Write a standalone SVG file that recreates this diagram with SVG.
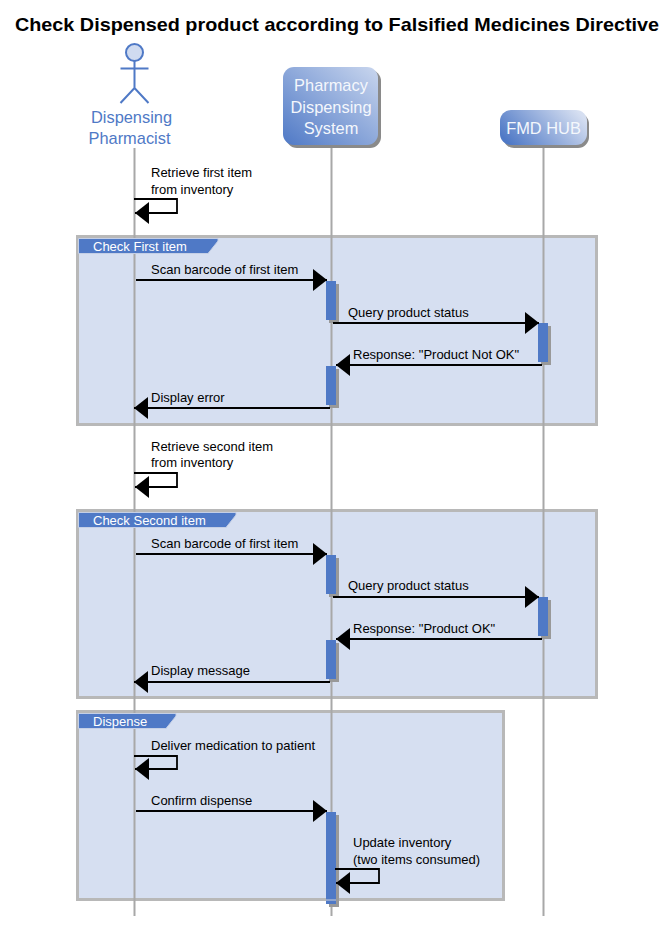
<svg xmlns="http://www.w3.org/2000/svg" width="670" height="927" viewBox="0 0 670 927">
<style>
text{font-family:"Liberation Sans",Arial,sans-serif}
.t{font-size:13px;fill:#000}
.tab{font-size:13px;fill:#fff}
.p{font-size:16.4px;fill:#f4f7fc;text-anchor:middle}
.a{font-size:16.4px;fill:#4f79c6;text-anchor:middle}
.frame{fill:#d6dff1;stroke:#b8b8b8;stroke-width:3}
.tabs{fill:#4f79c6;stroke:#c4cfe6;stroke-width:1}
.life{stroke:#a8a8a8;stroke-width:2;fill:none}
.msg{stroke:#000;stroke-width:1.800;fill:none}
.act{fill:#4f79c6}
.sh{fill:#999}
.actor{stroke:#4f79c6;stroke-width:2;fill:none}
</style>
<defs>
<linearGradient id="g1" x1="0" y1="1" x2="1" y2="0"><stop offset="0" stop-color="#4f79c6"/><stop offset="1" stop-color="#c9d6ee"/></linearGradient>
<linearGradient id="g2" x1="0" y1="0.7" x2="1" y2="0.3"><stop offset="0" stop-color="#4f79c6"/><stop offset="1" stop-color="#d6dff1"/></linearGradient>
<marker id="ah" markerUnits="userSpaceOnUse" markerWidth="14" markerHeight="22" refX="14" refY="11" orient="auto"><path d="M0 0L14 11L0 22Z" fill="#000"/></marker>
</defs>
<text x="337" y="31" font-size="18.500" font-weight="bold" text-anchor="middle" fill="#000" textLength="644" lengthAdjust="spacingAndGlyphs">Check Dispensed product according to Falsified Medicines Directive</text>

<g id="frames">
<rect class="frame" x="77.500" y="236.500" width="519" height="188"/>
<rect class="frame" x="77.500" y="510.500" width="519" height="187"/>
<rect class="frame" x="77.500" y="711.500" width="426" height="188"/>
</g>

<g id="lifelines">
<path class="life" d="M134.500 148V916M331.500 148V916M543.500 148V916"/>
</g>

<g id="frame-tabs">
<g id="tab-check-first"><path class="tabs" d="M78.500 238.500H218V241L208 253.500H78.500Z"/><text class="tab" x="93" y="250.500">Check First item</text></g>
<g id="tab-check-second"><path class="tabs" d="M78.500 512.500H236V515L226 527.500H78.500Z"/><text class="tab" x="93" y="524.500">Check Second item</text></g>
<g id="tab-dispense"><path class="tabs" d="M78.500 713.500H176V716L166 728.500H78.500Z"/><text class="tab" x="93" y="725.500">Dispense</text></g>
</g>

<g id="actor-pharmacist">
<circle cx="134.500" cy="52.500" r="8.500" fill="#d0dbf0" stroke="#4f79c6" stroke-width="2"/>
<path class="actor" d="M134.500 61V88M120.500 68.500H148.500M120.500 103L134.500 88L148.500 103"/>
<text class="a" x="131.500" y="123">Dispensing</text>
<text class="a" x="129.500" y="144">Pharmacist</text>
</g>

<g id="node-pds">
<rect x="286" y="70" width="95" height="78" rx="11" fill="#8a8a8a"/>
<rect x="283" y="67" width="95" height="78" rx="11" fill="url(#g1)"/>
<text class="p" x="331" y="91">Pharmacy</text>
<text class="p" x="331" y="113">Dispensing</text>
<text class="p" x="331" y="134">System</text>
</g>

<g id="node-fmd">
<rect x="503" y="113" width="86" height="35" rx="11" fill="#8a8a8a"/>
<rect x="500" y="110" width="87" height="35" rx="11" fill="url(#g2)"/>
<text class="p" x="543.500" y="134">FMD HUB</text>
</g>

<g id="activations">
<rect class="sh" x="329" y="284" width="10" height="39"/><rect class="act" x="326" y="281" width="10" height="39"/>
<rect class="sh" x="541" y="326" width="10" height="39"/><rect class="act" x="538" y="323" width="10" height="39"/>
<rect class="sh" x="329" y="369" width="10" height="39"/><rect class="act" x="326" y="366" width="10" height="39"/>
<rect class="sh" x="329" y="558" width="10" height="39"/><rect class="act" x="326" y="555" width="10" height="39"/>
<rect class="sh" x="541" y="600" width="10" height="39"/><rect class="act" x="538" y="597" width="10" height="39"/>
<rect class="sh" x="329" y="643" width="10" height="39"/><rect class="act" x="326" y="640" width="10" height="39"/>
<rect class="sh" x="329" y="815" width="10" height="92"/><rect class="act" x="326" y="812" width="10" height="92"/>
<rect x="326" y="899" width="10" height="2" fill="#8fa5d0"/>
</g>

<g id="connectors">
<path class="msg" marker-end="url(#ah)" d="M134 199H177V213H135"/>
<path class="msg" marker-end="url(#ah)" d="M136 280H327"/>
<path class="msg" marker-end="url(#ah)" d="M333 323H539"/>
<path class="msg" marker-end="url(#ah)" d="M542 365H336"/>
<path class="msg" marker-end="url(#ah)" d="M330 408H134"/>
<path class="msg" marker-end="url(#ah)" d="M134 473H177V487H135"/>
<path class="msg" marker-end="url(#ah)" d="M136 554H327"/>
<path class="msg" marker-end="url(#ah)" d="M333 597H539"/>
<path class="msg" marker-end="url(#ah)" d="M542 639H336"/>
<path class="msg" marker-end="url(#ah)" d="M330 682H134"/>
<path class="msg" marker-end="url(#ah)" d="M134 756H177V769H135"/>
<path class="msg" marker-end="url(#ah)" d="M136 811H327"/>
<path class="msg" marker-end="url(#ah)" d="M335 869H379V883H336"/>
</g>

<g id="labels">
<text class="t" x="151" y="177">Retrieve first item</text>
<text class="t" x="151" y="194">from inventory</text>
<text class="t" x="151" y="274">Scan barcode of first item</text>
<text class="t" x="348" y="317">Query product status</text>
<text class="t" x="353" y="359">Response: "Product Not OK"</text>
<text class="t" x="151" y="402">Display error</text>
<text class="t" x="151" y="451">Retrieve second item</text>
<text class="t" x="151" y="467">from inventory</text>
<text class="t" x="151" y="548">Scan barcode of first item</text>
<text class="t" x="348" y="590">Query product status</text>
<text class="t" x="353" y="633">Response: "Product OK"</text>
<text class="t" x="151" y="675">Display message</text>
<text class="t" x="151" y="750">Deliver medication to patient</text>
<text class="t" x="151" y="805">Confirm dispense</text>
<text class="t" x="353" y="847">Update inventory</text>
<text class="t" x="353" y="864">(two items consumed)</text>
</g>
</svg>
